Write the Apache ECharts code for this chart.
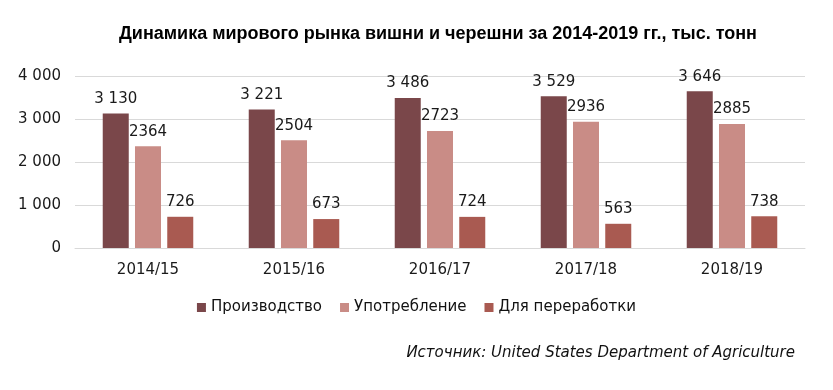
<!DOCTYPE html>
<html><head><meta charset="utf-8">
<script src="https://cdn.jsdelivr.net/npm/echarts@6/dist/echarts.min.js"></script>
<style>html,body{margin:0;padding:0;background:#fff}#c{width:833px;height:390px}</style>
</head><body><div id="c"></div>
<script>
var categories = ['2014/15','2015/16','2016/17','2017/18','2018/19'];
var production = [3130, 3221, 3486, 3529, 3646];
var consumption = [2364, 2504, 2723, 2936, 2885];
var processing = [726, 673, 724, 563, 738];
var seriesNames = ['Производство','Употребление','Для переработки'];
var yTicks = [0, 1000, 2000, 3000, 4000];

function sp(v){ return String(v).replace(/\B(?=(\d{3})+(?!\d))/g,' '); }
var F = '"DejaVu Sans", sans-serif';
var chart = echarts.init(document.getElementById('c'));
function lbl(fmt){
  return {show:true, position:'top', distance:7, color:'#1a1a1a', fontFamily:F, fontSize:15, formatter:fmt};
}
chart.setOption({
  animation:false,
  title:[{text:'Динамика мирового рынка вишни и черешни за 2014-2019 гг., тыс. тонн', left:433, top:20, textAlign:'center',
    textStyle:{fontFamily:'"Liberation Sans", Arial, sans-serif', fontWeight:'bold', fontSize:18, color:'#000'}},
    {text:'Источник: United States Department of Agriculture', right:33, top:341,
    textStyle:{fontFamily:F, fontStyle:'italic', fontWeight:'normal', fontSize:15, color:'#111'}}],
  legend:{data:seriesNames, left:'center', top:295, itemWidth:9, itemHeight:9, itemGap:18, icon:'rect',
    textStyle:{fontFamily:F, fontSize:15, color:'#111'}},
  grid:{left:75, right:28, top:76, bottom:142},
  xAxis:{type:'category', data:categories, axisTick:{show:false},
    axisLine:{lineStyle:{color:'#d9d9d9'}},
    axisLabel:{fontFamily:F, fontSize:15, color:'#1a1a1a', margin:15}},
  yAxis:{type:'value', min:yTicks[0], max:yTicks[yTicks.length-1], interval:1000,
    axisLabel:{fontFamily:F, fontSize:15, color:'#1a1a1a', margin:14, formatter:function(v){return sp(v);}},
    splitLine:{lineStyle:{color:'#d9d9d9'}}, axisLine:{show:false}, axisTick:{show:false}},
  series:[
    {name:seriesNames[0], type:'bar', data:production, itemStyle:{color:'#7a474a'}, barGap:'24%', barCategoryGap:'38%',
      label:lbl(function(p){return sp(p.value);})},
    {name:seriesNames[1], type:'bar', data:consumption, itemStyle:{color:'#c98c86'}, label:lbl('{c}')},
    {name:seriesNames[2], type:'bar', data:processing, itemStyle:{color:'#a95a51'}, label:lbl('{c}')}
  ]
});
</script></body></html>
